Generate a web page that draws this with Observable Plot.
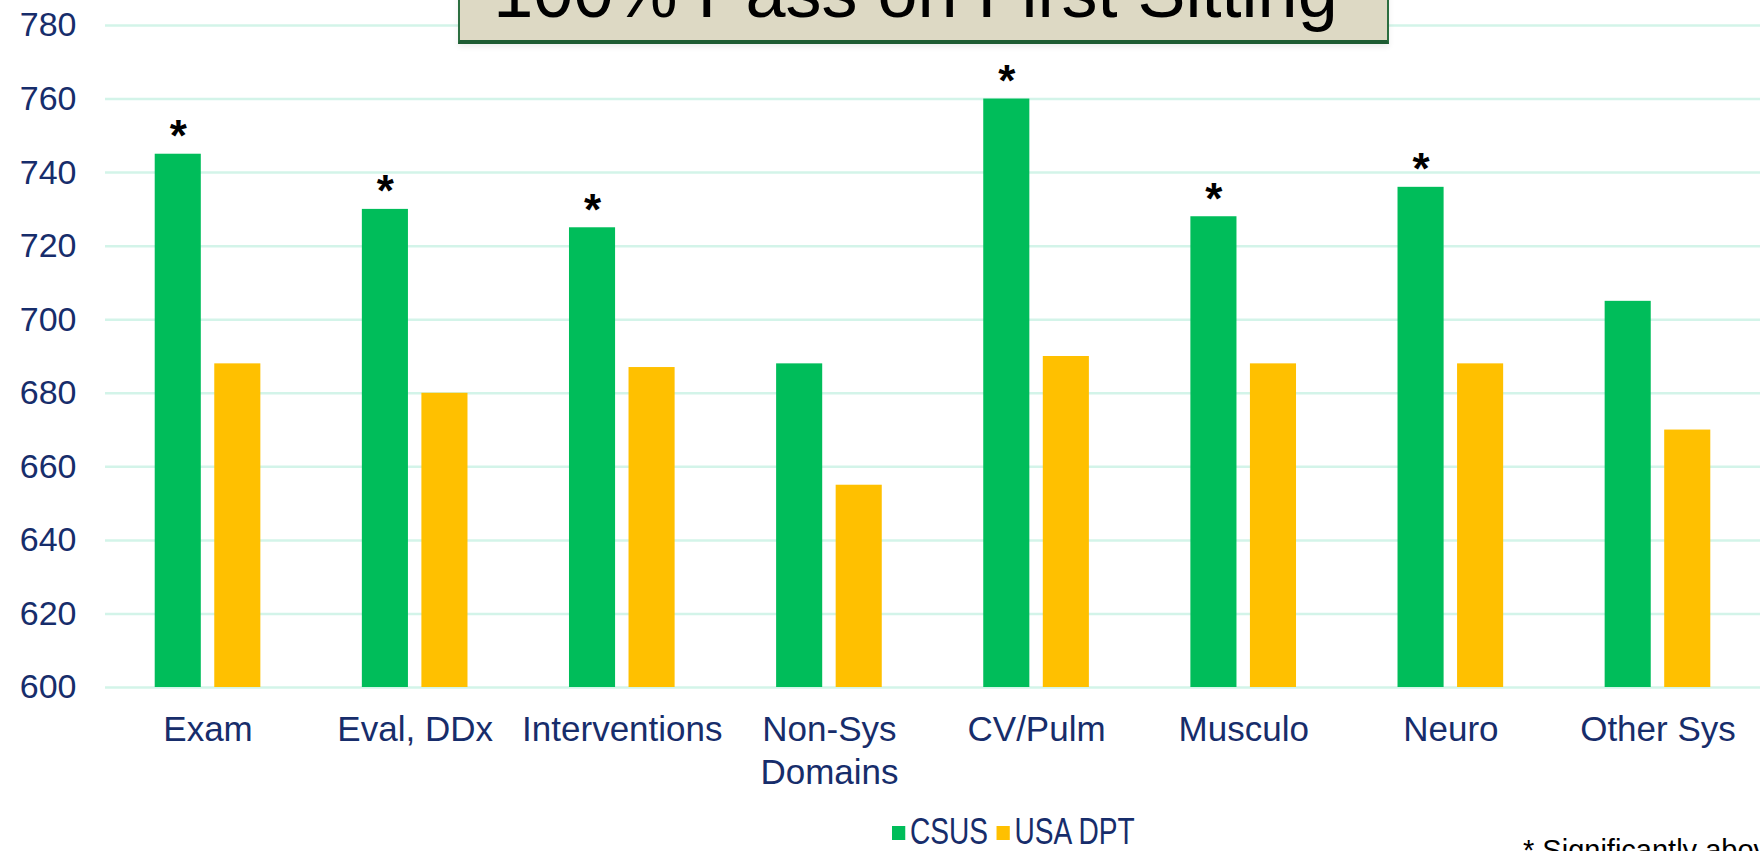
<!DOCTYPE html>
<html>
<head>
<meta charset="utf-8">
<script src="https://cdn.jsdelivr.net/npm/d3@7"></script>
<script src="https://cdn.jsdelivr.net/npm/@observablehq/plot@0.6"></script>
<style>
  html, body { margin: 0; padding: 0; background: #fff; }
  #wrap { position: relative; width: 1760px; height: 851px; overflow: hidden;
          font-family: Arial, "Liberation Sans", sans-serif; background: #fff; }
  #grid, #chart { position: absolute; left: 0; top: 0; }
  #titlebox { position: absolute; left: 458px; top: -60px; width: 931px; height: 104px;
              box-sizing: border-box; background: #ddd9c4; border: 2px solid #2b6e40;
              border-bottom: 4px solid #1e5c33; box-shadow: 0 3px 6px rgba(0,0,0,0.07); }
  #title { position: absolute; left: 450px; top: -44px; width: 931px; text-align: center;
           font-size: 72px; line-height: 72px; color: #000; white-space: nowrap; }
  #legend { position: absolute; left: 892px; top: 814px; height: 36px; display: flex; align-items: center;
            font-size: 36px; color: #172d6b; white-space: nowrap;
            transform: scaleX(0.78); transform-origin: left center; }
  #legend .item { display: flex; align-items: center; margin-right: 11px; }
  #legend .sw { width: 17px; height: 14px; margin-right: 6px; margin-top: 2px; }
  #legend .lab { line-height: 36px; }
  #note { position: absolute; left: 1523px; top: 835px; font-size: 29px; line-height: 30px; color: #000; white-space: nowrap; }
</style>
</head>
<body>
<div id="wrap">
  <div id="grid"></div>
  <div id="chart"></div>
  <div id="titlebox"></div>
  <div id="title">100% Pass on First Sitting</div>
  <div id="legend"></div>
  <div id="note">* Significantly above</div>
</div>
<script>
// ---- data ----
const categories = ["Exam", "Eval, DDx", "Interventions", "Non-Sys Domains", "CV/Pulm", "Musculo", "Neuro", "Other Sys"];
const tickLabels = ["Exam", "Eval, DDx", "Interventions", "Non-Sys\nDomains", "CV/Pulm", "Musculo", "Neuro", "Other Sys"];
const series = ["CSUS", "USA DPT"];
const csus   = [745, 730, 725, 688, 760, 728, 736, 705];
const usaDpt = [688, 680, 687, 655, 690, 688, 688, 670];
const significant = [true, true, true, false, true, true, true, false];
const yDomain = [600, 780];
const yTicks = [600, 620, 640, 660, 680, 700, 720, 740, 760, 780];
const colors = ["#00bd5a", "#ffc000"];
const navy = "#172d6b";

// ---- tables ----
const rows = categories.flatMap((c, i) => [
  {category: c, series: series[0], value: csus[i]},
  {category: c, series: series[1], value: usaDpt[i]}
]);
const stars = categories
  .map((c, i) => ({category: c, series: series[0], value: csus[i], sig: significant[i]}))
  .filter(d => d.sig);

const common = {
  width: 1760,
  height: 800,
  marginLeft: 105,
  marginRight: 0,
  marginTop: 25,
  marginBottom: 113,
  style: {fontFamily: "Arial, 'Liberation Sans', sans-serif", background: "transparent"}
};

// background layer: gridlines and y axis across the full frame
const grid = Plot.plot({
  ...common,
  y: {domain: yDomain, axis: null, label: null},
  marks: [
    Plot.gridY(yTicks, {stroke: "#d3f4e9", strokeOpacity: 1, strokeWidth: 2.5}),
    Plot.axisY(yTicks, {tickSize: 0, tickPadding: 29, fontSize: 34, color: navy, label: null})
  ]
});
document.getElementById("grid").appendChild(grid);

// foreground layer: grouped bars
const chart = Plot.plot({
  ...common,
  fx: {domain: categories, paddingInner: 0.49, paddingOuter: 0.24, round: false, axis: null, label: null},
  x: {domain: series, paddingInner: 0.226, paddingOuter: 0, round: false, axis: null, label: null},
  y: {domain: yDomain, axis: null, label: null},
  color: {domain: series, range: colors},
  marks: [
    Plot.axisFx({anchor: "bottom", tickSize: 0, tickPadding: 22, fontSize: 35, color: navy, label: null,
                 lineHeight: 1.25, tickFormat: c => tickLabels[categories.indexOf(c)]}),
    Plot.barY(rows, {fx: "category", x: "series", y1: yDomain[0], y2: "value", fill: "series"}),
    Plot.text(stars, {fx: "category", x: "series", y: "value", text: () => "*", fontSize: 44,
                      fontWeight: "bold", lineAnchor: "bottom", dy: -3, fill: "#000"})
  ]
});
document.getElementById("chart").appendChild(chart);

// ---- legend ----
const legend = document.getElementById("legend");
series.forEach((s, i) => {
  const item = document.createElement("div");
  item.className = "item";
  const sw = document.createElement("div");
  sw.className = "sw";
  sw.style.background = colors[i];
  const lab = document.createElement("span");
  lab.className = "lab";
  lab.textContent = s;
  item.appendChild(sw);
  item.appendChild(lab);
  legend.appendChild(item);
});
</script>
</body>
</html>
